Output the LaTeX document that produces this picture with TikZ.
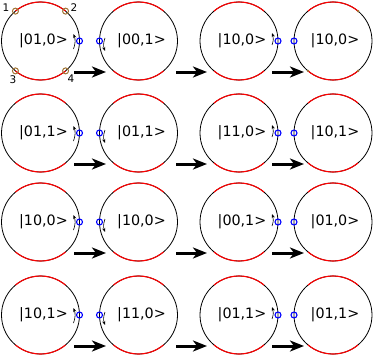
\documentclass[tikz,border=0pt]{standalone}
\usepackage{fontspec}
\setmainfont{DejaVu Sans}
\usetikzlibrary{arrows.meta,calc}
\definecolor{brownpt}{RGB}{160,115,50}
\begin{document}
\begin{tikzpicture}[x=1pt,y=1pt,
  ring/.style={circle,draw=black,line width=0.8pt,minimum size=78pt,inner sep=0pt,outer sep=0pt},
  ket/.style={font=\fontsize{14.3}{16}\selectfont,inner sep=0pt},
  redarc/.style={draw=red,line width=1.1pt},
  port/.style={circle,draw=blue,line width=1.1pt,minimum size=6pt,inner sep=0pt},
  spin/.style={line width=0.6pt,-{Stealth[length=4pt,width=3pt]}},
  bigarrow/.style={line width=3pt,-{Stealth[length=14pt,width=11pt,inset=4pt]}},
  site/.style={circle,draw=brownpt,line width=1pt,minimum size=6pt,inner sep=0pt},
  num/.style={font=\fontsize{10.5}{12}\selectfont,inner sep=0pt}]
\useasboundingbox (0,0) rectangle (374,357);
\foreach \r/\y/\a/\b/\c/\d in {1/316/{|01,0>}/{|00,1>}/{|10,0>}/{|10,0>},
                               2/224/{|01,1>}/{|01,1>}/{|11,0>}/{|10,1>},
                               3/135/{|10,0>}/{|10,0>}/{|00,1>}/{|01,0>},
                               4/42/{|10,1>}/{|11,0>}/{|01,1>}/{|01,1>}} {
  \node[ring] (c\r a) at (40.5,\y) {};
  \node[ring] (c\r b) at (138.5,\y) {};
  \node[ring] (c\r c) at (239,\y) {};
  \node[ring] (c\r d) at (333,\y) {};
  \node[ket] (t\r a) at (43.5,\y) {\a};
  \node[ket] (t\r b) at (141.5,\y) {\b};
  \node[ket] (t\r c) at (242,\y) {\c};
  \node[ket] (t\r d) at (335,\y) {\d};
  \foreach \k in {a,b,c,d} {
    \draw[redarc] (c\r\k.50) arc[start angle=50,end angle=130,radius=39];
    \draw[redarc] (c\r\k.230) arc[start angle=230,end angle=310,radius=39];
  }
  \node[port] (p\r a) at (c\r a.east) {};
  \node[port] (p\r b) at (c\r b.west) {};
  \node[port] (p\r c) at (c\r c.east) {};
  \node[port] (p\r d) at (c\r d.west) {};
  \draw[spin] ($(c\r a.east)+(-6,-8)$) to[bend right=20] ($(c\r a.east)+(-6,7)$);
  \draw[spin] ($(c\r b.west)+(5.5,3)$) to[bend right=20] ($(c\r b.west)+(5.5,-10)$);
  \draw[spin] ($(c\r c.east)+(-6,-4)$) to[bend right=20] ($(c\r c.east)+(-6,8)$);
  \coordinate (u\r a) at ($(c\r a.center)+(33.5,-31)$);
  \coordinate (v\r a) at ($(c\r b.center)+(-32.5,-31)$);
  \coordinate (u\r b) at ($(c\r b.center)+(37.5,-31)$);
  \coordinate (v\r b) at ($(c\r c.center)+(-32,-31)$);
  \coordinate (u\r c) at ($(c\r c.center)+(33,-31)$);
  \coordinate (v\r c) at ($(c\r d.center)+(-29,-31)$);
  \draw[bigarrow] (u\r a) -- (v\r a);
  \draw[bigarrow] (u\r b) -- (v\r b);
  \draw[bigarrow] (u\r c) -- (v\r c);
}
\foreach \ang/\lab/\lx/\ly in {130/1/6/349, 50/2/74/349, 230/3/13/277, 310/4/71/278} {
  \node[site] (s\lab) at (c1a.\ang) {};
  \node[num] (n\lab) at (\lx,\ly) {\lab};
}
\foreach \ang in {50,230,310} {
  \fill[brownpt] (c1d.\ang) circle (1.3);
}
\end{tikzpicture}
\end{document}
